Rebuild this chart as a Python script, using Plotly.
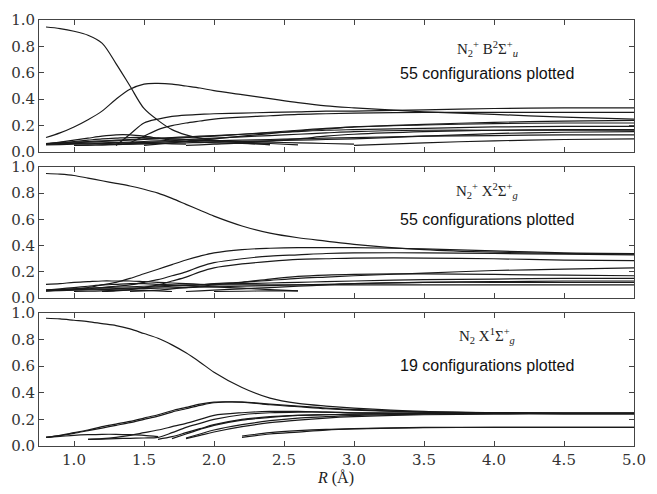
import plotly.graph_objects as go

# Internuclear distance grid (Angstrom) shared by every configuration curve
R = [0.8, 0.9, 1.0, 1.1, 1.2, 1.3, 1.4, 1.5, 1.6, 1.7, 1.8, 1.9, 2.0,
     2.2, 2.4, 2.6, 2.8, 3.0, 3.5, 4.0, 4.5, 5.0]
N = None

# N2+ B 2Sigma_u+ configuration weights
B_STATE = [
    [.947, .935, .915, .885, .825, .67, .50, .33, .24, .17, .13, .105, .09, .07, .055, N, N, N, N, N, N, N],
    [.11, .145, .19, .245, .31, .40, .475, .515, .52, .515, .50, .485, .465, .435, .405, .375, .35, .335, .305, .285, .265, .25],
    [N, N, N, N, N, .05, .135, .22, .25, .27, .28, .285, .29, .295, .30, .305, .31, .31, .32, .33, .335, .335],
    [N, N, N, N, N, N, .07, .12, .17, .20, .22, .235, .25, .265, .275, .285, .29, .295, .30, .30, .30, .30],
    [.06, .075, .09, .105, .12, .13, .13, .12, .105, .09, .08, .075, .07, .065, .06, N, N, N, N, N, N, N],
    [.065, .07, .075, .08, .085, .09, .095, .10, .105, .11, .115, .12, .125, .135, .145, .155, .165, .17, .18, .19, .195, .195],
    [.06, .065, .07, .075, .08, .085, .09, .095, .10, .105, .11, .115, .12, .135, .15, .165, .18, .19, .21, .225, .235, .24],
    [N, N, N, N, N, N, N, .05, .06, .07, .08, .09, .10, .12, .14, .16, .175, .19, .205, .215, .22, .22],
    [.055, .057, .06, .062, .065, .067, .07, .072, .075, .077, .08, .082, .085, .09, .095, .10, .105, .11, .12, .125, .13, .13],
    [N, N, .05, .052, .055, .057, .06, .062, .065, .067, .07, .072, .075, .08, .085, .09, .095, .10, .12, .14, .15, .155],
    [N, N, N, N, N, N, N, N, N, N, N, N, N, N, N, N, N, .05, .07, .085, .095, .10],
    [N, N, .05, .052, .055, .058, .06, .063, .065, .062, .06, N, N, N, N, N, N, N, N, N, N, N],
    [N, N, N, N, N, .06, .065, .07, .075, .08, .085, .088, .085, .075, .065, .055, N, N, N, N, N, N],
    [.06, .062, .065, .067, .07, .072, .075, .08, .085, .09, .095, .10, .105, .115, .125, .135, .145, .155, .165, .165, .165, .165],
    [.065, .072, .08, .09, .10, .105, .11, .11, .105, .10, .095, .09, .085, .08, .075, .07, .065, .06, N, N, N, N],
    [N, N, N, N, N, N, N, N, N, N, .05, .055, .06, .07, .085, .10, .12, .135, .155, .165, .17, .17],
]

# N2+ X 2Sigma_g+ configuration weights
X2_STATE = [
    [.95, .945, .935, .915, .895, .875, .855, .83, .80, .76, .715, .67, .625, .55, .495, .46, .435, .41, .37, .35, .34, .335],
    [.055, .062, .07, .08, .10, .12, .15, .185, .22, .255, .29, .32, .345, .37, .38, .385, .385, .385, .375, .36, .345, .34],
    [.055, .06, .065, .07, .08, .09, .10, .12, .14, .17, .20, .24, .27, .30, .32, .33, .34, .345, .345, .34, .335, .33],
    [N, N, N, N, .05, .055, .065, .08, .10, .13, .16, .20, .23, .26, .28, .295, .30, .305, .305, .30, .29, .285],
    [.105, .11, .12, .125, .13, .13, .13, .125, .12, .115, .11, .105, .10, .10, .10, .10, .10, .10, .10, .10, .10, .10],
    [.06, .062, .065, .067, .07, .072, .075, .08, .085, .09, .095, .10, .11, .12, .135, .15, .16, .17, .19, .21, .22, .23],
    [N, N, N, N, N, N, .05, .055, .06, .07, .08, .09, .10, .12, .145, .165, .175, .18, .185, .18, .175, .17],
    [.06, .065, .07, .075, .08, .083, .086, .09, .093, .096, .10, .103, .106, .11, .115, .12, .125, .13, .14, .145, .15, .15],
    [.055, .057, .06, .062, .065, .067, .07, .072, .075, .078, .08, .083, .086, .09, .095, .10, .105, .11, .12, .125, .13, .13],
    [.06, .07, .08, .09, .10, .105, .11, .11, .105, .10, .095, .09, .085, .075, .065, .055, N, N, N, N, N, N],
    [N, N, .05, .052, .055, .058, .06, .058, .055, .05, N, N, N, N, N, N, N, N, N, N, N, N],
    [N, N, N, N, N, N, N, N, N, N, .05, .055, .06, .07, .08, .09, .10, .11, .12, .12, .12, .12],
    [N, N, N, N, N, N, N, N, N, N, N, N, .05, .052, .055, .055, N, N, N, N, N, N],
]

# N2 X 1Sigma_g+ configuration weights
X1_STATE = [
    [.96, .955, .945, .935, .92, .905, .88, .845, .81, .76, .70, .63, .555, .44, .36, .32, .30, .285, .26, .25, .245, .245],
    [.065, .08, .10, .12, .145, .165, .185, .21, .235, .265, .29, .315, .33, .33, .315, .30, .285, .275, .255, .25, .245, .245],
    [.065, .078, .095, .115, .135, .155, .175, .20, .225, .255, .28, .305, .325, .33, .31, .295, .28, .27, .255, .25, .245, .245],
    [.065, .072, .08, .085, .088, .088, .085, .08, .07, N, N, N, N, N, N, N, N, N, N, N, N, N],
    [N, N, N, .05, .052, .055, .058, .06, .065, .10, .14, .17, .20, .235, .25, .255, .255, .25, .245, .245, .245, .245],
    [N, N, N, .05, .055, .065, .08, .10, .12, .145, .17, .20, .23, .25, .26, .26, .255, .25, .245, .245, .245, .245],
    [N, N, N, N, N, N, N, N, .05, .07, .10, .13, .16, .20, .22, .23, .235, .24, .245, .245, .245, .245],
    [N, N, N, N, N, N, N, N, N, .055, .09, .125, .155, .195, .215, .23, .235, .24, .245, .245, .245, .245],
    [N, N, N, N, N, N, N, N, N, N, .06, .09, .12, .16, .19, .21, .22, .23, .24, .245, .245, .245],
    [N, N, N, N, N, N, N, N, N, N, .055, .08, .105, .145, .175, .195, .21, .22, .235, .24, .24, .24],
    [N, N, N, N, N, N, N, N, N, N, N, N, N, .075, .10, .115, .125, .13, .14, .14, .14, .14],
    [N, N, N, N, N, N, N, N, N, N, N, N, N, .065, .09, .105, .12, .128, .137, .14, .14, .14],
]

STATE_LABELS = [
    "N<sub>2</sub><sup>+</sup> B<sup>2</sup>Σ<sup>+</sup><sub><i>u</i></sub>",
    "N<sub>2</sub><sup>+</sup> X<sup>2</sup>Σ<sup>+</sup><sub><i>g</i></sub>",
    "N<sub>2</sub> X<sup>1</sup>Σ<sup>+</sup><sub><i>g</i></sub>",
]
CONFIG_COUNTS = ["55 configurations plotted", "55 configurations plotted", "19 configurations plotted"]
Y_TICKS = [0.0, 0.2, 0.4, 0.6, 0.8, 1.0]
X_TICKS = [1.0, 1.5, 2.0, 2.5, 3.0, 3.5, 4.0, 4.5, 5.0]

LINE = "#1a1a1a"
AXIS = "#444444"
SERIF = "DejaVu Serif"
LABEL_SERIF = "Liberation Serif"
SANS = "Liberation Sans"
TICK_FONT = dict(family=SERIF, size=15, color="#333333")

fig = go.Figure()
panels = [B_STATE, X2_STATE, X1_STATE]
for i, curves in enumerate(panels):
    ax = "" if i == 0 else str(i + 1)
    for ys in curves:
        fig.add_trace(go.Scatter(
            x=R, y=ys, mode="lines", xaxis="x" + ax, yaxis="y" + ax,
            line=dict(color=LINE, width=1.2, shape="spline", smoothing=0.9),
            connectgaps=False, showlegend=False, hoverinfo="skip",
        ))

domains = [[0.690, 1.0], [0.3473, 0.655], [0.0, 0.3124]]
fig.update_layout(
    width=657, height=494,
    margin=dict(l=36, r=11, t=17, b=48),
    paper_bgcolor="white", plot_bgcolor="white",
    font=dict(family=SERIF, size=15, color="#333333"),
)
for i in range(3):
    ax = "" if i == 0 else str(i + 1)
    fig.update_layout(**{
        "xaxis" + ax: dict(
            range=[0.75, 5.0], tickvals=X_TICKS, tickformat=".1f",
            ticks="inside", ticklen=5, tickcolor=AXIS,
            showline=True, linecolor=AXIS, linewidth=1, mirror="allticks",
            showgrid=False, zeroline=False, anchor="y" + ax,
            showticklabels=(i == 2), tickfont=TICK_FONT,
        ),
        "yaxis" + ax: dict(
            range=[0, 1], tickvals=Y_TICKS, tickformat=".1f",
            ticks="inside", ticklen=5, tickcolor=AXIS,
            showline=True, linecolor=AXIS, linewidth=1, mirror="allticks",
            showgrid=False, zeroline=False, domain=domains[i], anchor="x" + ax,
            tickfont=TICK_FONT,
        ),
    })

# State labels and configuration counts in each panel
title_y = [0.78, 0.82, 0.83]
count_y = [0.595, 0.60, 0.605]
for i in range(3):
    ax = "" if i == 0 else str(i + 1)
    fig.add_annotation(text=STATE_LABELS[i], xref="x" + ax, yref="y" + ax,
                       x=3.95, y=title_y[i], showarrow=False, yanchor="middle",
                       font=dict(family=LABEL_SERIF, size=15, color="#222222"))
    fig.add_annotation(text=CONFIG_COUNTS[i], xref="x" + ax, yref="y" + ax,
                       x=3.95, y=count_y[i], showarrow=False, yanchor="middle",
                       font=dict(family=SANS, size=16, color="#111111"))

fig.add_annotation(text="<i>R</i> (Å)", xref="paper", yref="paper",
                   x=(340 - 36) / 610, y=(446 - 478) / 429, showarrow=False,
                   yanchor="middle",
                   font=dict(family=LABEL_SERIF, size=16, color="#222222"))

fig.write_html("out.html")
